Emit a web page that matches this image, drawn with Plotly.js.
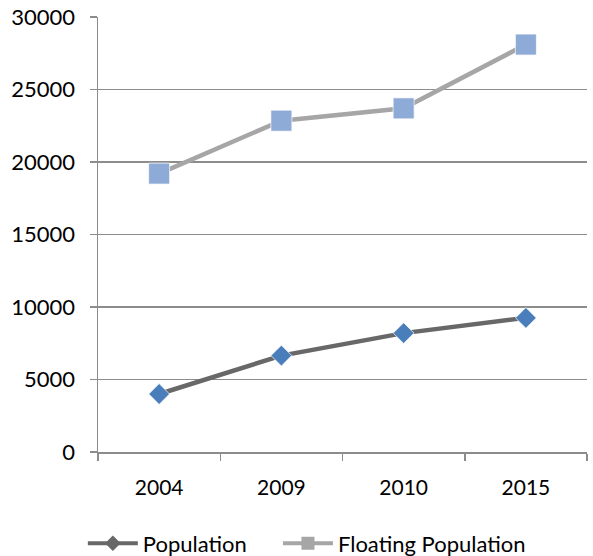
<!DOCTYPE html>
<html>
<head>
<meta charset="utf-8">
<script src="https://cdn.plot.ly/plotly-3.0.1.min.js"></script>
<style>html,body{margin:0;padding:0;background:#fff;}#chart{width:593px;height:556px;}</style>
</head>
<body>
<div id="chart"></div>
<script>
const years = ["2004", "2009", "2010", "2015"];
const population = [4000, 6650, 8200, 9250];
const floatingPopulation = [19200, 22850, 23700, 28100];
const seriesNames = ["Population", "Floating Population"];

const font = "Lato, 'Open Sans', sans-serif";
const traces = [
  {x: years, y: population, type: "scatter", mode: "lines+markers", showlegend: false,
   line: {color: "#686868", width: 4.5},
   marker: {symbol: "diamond", size: 16, color: "#4a7ebb", line: {color: "rgba(255,255,255,0.7)", width: 1}}},
  {x: years, y: floatingPopulation, type: "scatter", mode: "lines+markers", showlegend: false,
   line: {color: "#a6a6a6", width: 4.5},
   marker: {symbol: "square", size: 21, color: "#8eaad6", line: {color: "rgba(255,255,255,0.7)", width: 1}}},
  {x: [null], y: [null], type: "scatter", mode: "lines+markers", name: seriesNames[0], legend: "legend",
   line: {color: "#686868", width: 4},
   marker: {symbol: "diamond", size: 12, color: "#686868"}},
  {x: [null], y: [null], type: "scatter", mode: "lines+markers", name: seriesNames[1], legend: "legend2",
   line: {color: "#a6a6a6", width: 4},
   marker: {symbol: "square", size: 13, color: "#a6a6a6"}}
];

const legendBase = {orientation: "h", xanchor: "left", y: -0.162, yanchor: "top",
  font: {family: font, size: 22, color: "#000"}, itemwidth: 50, bgcolor: "rgba(0,0,0,0)"};

const layout = {
  width: 593, height: 556,
  margin: {l: 98, r: 6, t: 17, b: 104, autoexpand: false},
  paper_bgcolor: "#fff", plot_bgcolor: "#fff",
  font: {family: font, size: 21, color: "#000"},
  showlegend: true,
  legend: Object.assign({}, legendBase, {x: -0.031}),
  legend2: Object.assign({}, legendBase, {x: 0.368}),
  xaxis: {type: "category", categoryorder: "array", categoryarray: years,
          range: [-0.5, 3.5], showgrid: false, showline: true, linecolor: "#8c8c8c", linewidth: 1.5,
          ticks: "outside", tickson: "boundaries", ticklen: 7, tickwidth: 1.5, tickcolor: "#8c8c8c",
          ticklabelstandoff: 16, zeroline: false, fixedrange: true},
  yaxis: {range: [0, 30000], dtick: 5000, tick0: 0, tickformat: "d", showgrid: true, gridcolor: "#8c8c8c", gridwidth: 1.5,
          showline: true, linecolor: "#8c8c8c", linewidth: 1.5, tickfont: {size: 22},
          ticks: "outside", ticklen: 7, tickwidth: 1.5, tickcolor: "#8c8c8c",
          ticklabelstandoff: 10, zeroline: false, fixedrange: true}
};

Plotly.newPlot("chart", traces, layout, {displayModeBar: false, staticPlot: true});
</script>
</body>
</html>
